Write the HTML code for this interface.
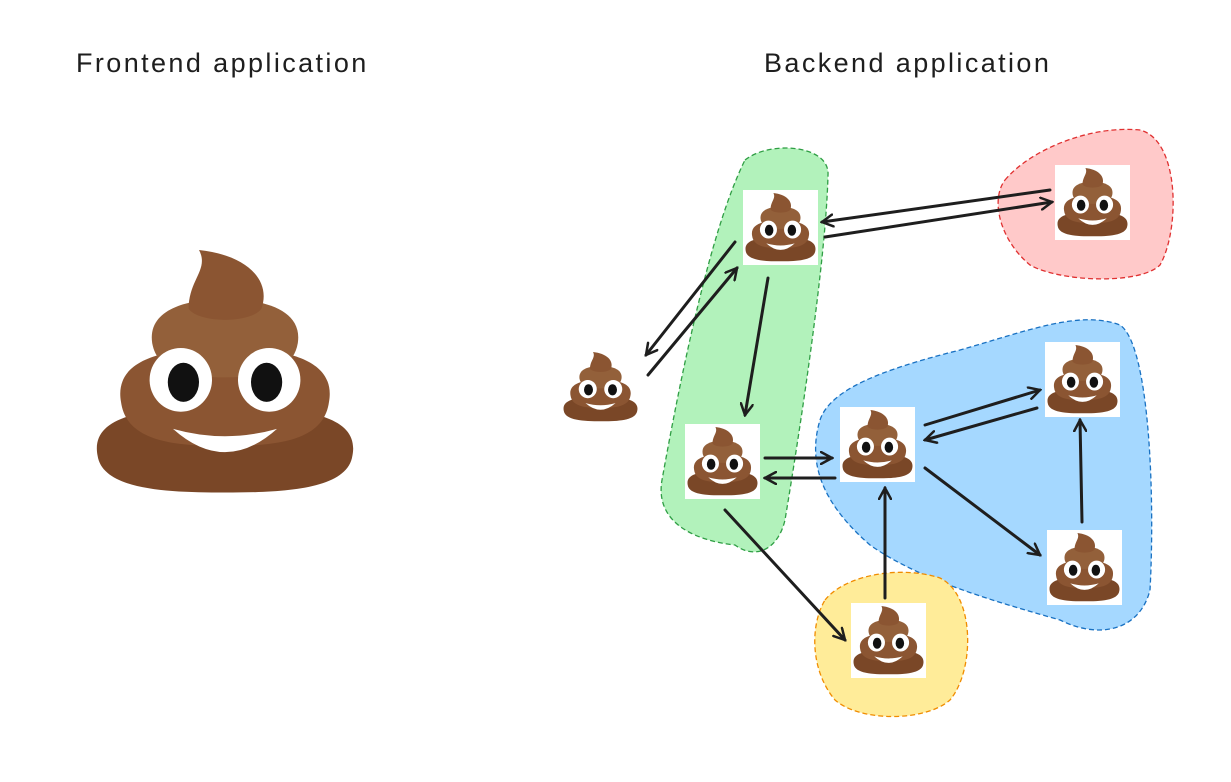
<!DOCTYPE html>
<html><head><meta charset="utf-8"><style>
html,body{margin:0;padding:0;background:#fff;}
body{width:1231px;height:782px;position:relative;overflow:hidden;}
.t{position:absolute;font-family:"Liberation Sans",sans-serif;font-size:27px;color:#1e1e1e;white-space:nowrap;letter-spacing:2.4px;}
</style></head><body>
<div class="t" style="left:76px;top:48px;">Frontend application</div>
<div class="t" style="left:764px;top:48px;">Backend application</div>
<svg width="1231" height="782" style="position:absolute;left:0;top:0">
<defs>
<symbol id="p" viewBox="0 0 100 100" preserveAspectRatio="none">
<path d="M1 84 C-2 68 18 64 50 64 C82 64 102 68 99 84 C97 98 72 99 50 99 C28 99 3 98 1 84Z" fill="#7a4727"/>
<path d="M10 62 C7 44 28 40 50 40 C72 40 93 44 90 62 C88 78 70 80 50 80 C30 80 12 78 10 62Z" fill="#8b5532"/>
<path d="M22 38 C20 24 36 20 50 20 C64 20 80 24 78 38 C76 50 64 52 50 52 C36 52 24 50 22 38Z" fill="#93603a"/>
<path d="M36 24 C36 12 44 8 40 0 C58 2 68 12 64 24 C60 30 40 30 36 24Z" fill="#8b5532"/>
<ellipse cx="33" cy="53" rx="12" ry="13" fill="#fff"/>
<ellipse cx="67" cy="53" rx="12" ry="13" fill="#fff"/>
<ellipse cx="34" cy="54" rx="6" ry="8" fill="#111"/>
<ellipse cx="66" cy="54" rx="6" ry="8" fill="#111"/>
<path d="M30 73 Q50 92 70 73 Q50 79 30 73Z" fill="#fff"/>
</symbol>
<marker id="a" markerWidth="14" markerHeight="14" refX="12" refY="7" orient="auto" markerUnits="userSpaceOnUse">
<path d="M1 1 L12 7 L1 13" fill="none" stroke="#1e1e1e" stroke-width="2.5" stroke-linecap="round"/>
</marker>
</defs>
<g stroke-dasharray="5 3" stroke-width="1.3">
<path d="M745 160 C770 140 830 145 828 175 C826 260 800 430 785 520 C778 550 755 560 735 545 C690 540 655 520 662 480 C680 380 710 230 745 160Z" fill="#b2f2bb" stroke="#2f9e44"/>
<path d="M1005 180 C1030 150 1090 125 1140 130 C1180 140 1180 230 1160 265 C1140 285 1060 282 1030 265 C1000 240 990 200 1005 180Z" fill="#ffc9c9" stroke="#e03131"/>
<path d="M820 420 C830 390 880 370 960 350 C1030 330 1080 310 1120 325 C1150 345 1155 500 1150 590 C1140 630 1100 640 1060 620 C990 600 920 580 870 545 C830 510 805 470 820 420Z" fill="#a5d8ff" stroke="#1971c2"/>
<path d="M825 600 C845 575 900 565 940 578 C975 595 975 670 950 700 C925 722 860 722 835 700 C810 670 810 625 825 600Z" fill="#ffec99" stroke="#f08c00"/>
</g>
<use href="#p" x="95" y="250" width="260" height="245"/>
<g fill="#fff">
<rect x="743" y="190" width="75" height="75"/><rect x="1055" y="165" width="75" height="75"/>
<rect x="685" y="424" width="75" height="75"/><rect x="840" y="407" width="75" height="75"/>
<rect x="1045" y="342" width="75" height="75"/><rect x="1047" y="530" width="75" height="75"/>
<rect x="851" y="603" width="75" height="75"/>
</g>
<use href="#p" x="745" y="193" width="71" height="69"/>
<use href="#p" x="1057" y="168" width="71" height="69"/>
<use href="#p" x="563" y="352" width="75" height="70"/>
<use href="#p" x="687" y="427" width="71" height="69"/>
<use href="#p" x="842" y="410" width="71" height="69"/>
<use href="#p" x="1047" y="345" width="71" height="69"/>
<use href="#p" x="1049" y="533" width="71" height="69"/>
<use href="#p" x="853" y="606" width="71" height="69"/>
<g stroke="#1e1e1e" stroke-width="3" fill="none" marker-end="url(#a)" stroke-linecap="round">
<line x1="735" y1="242" x2="646" y2="355"/>
<line x1="648" y1="375" x2="737" y2="268"/>
<line x1="768" y1="278" x2="745" y2="415"/>
<line x1="1050" y1="190" x2="822" y2="222"/>
<line x1="825" y1="237" x2="1052" y2="202"/>
<line x1="765" y1="458" x2="832" y2="458"/>
<line x1="835" y1="478" x2="765" y2="478"/>
<line x1="725" y1="510" x2="845" y2="640"/>
<line x1="885" y1="598" x2="885" y2="488"/>
<line x1="925" y1="425" x2="1040" y2="390"/>
<line x1="1037" y1="408" x2="925" y2="440"/>
<line x1="925" y1="468" x2="1040" y2="555"/>
<line x1="1082" y1="522" x2="1080" y2="420"/>
</g>
</svg>
</body></html>
